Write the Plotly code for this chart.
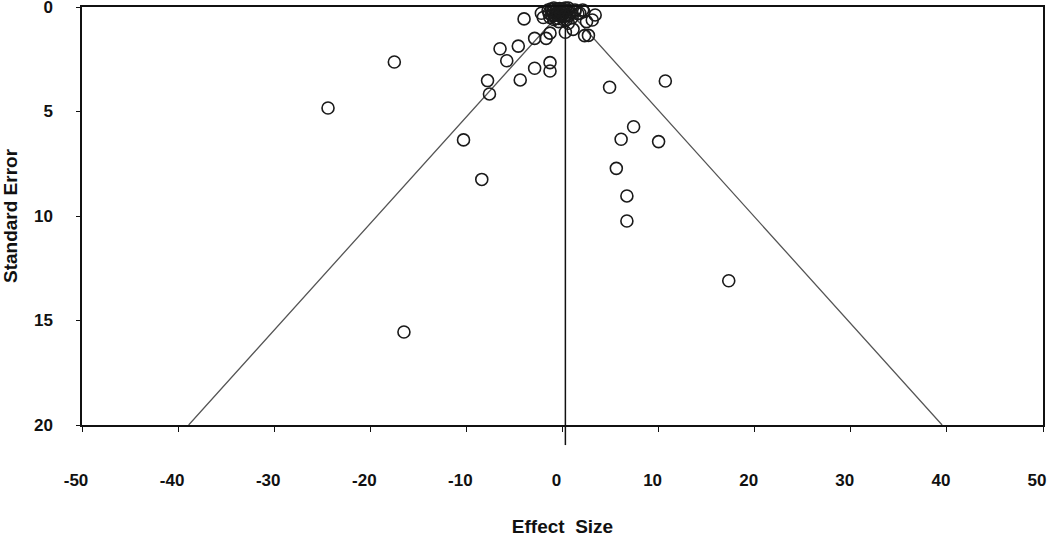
import plotly.graph_objects as go

# study effect sizes and standard errors
effect_size = [
    -24.4, -17.5, -16.5, -10.3, -8.4, -7.8, -7.6, -6.5, -5.8, -4.6,
    -4.4, -4.0, -2.9, -2.9, -1.3, -1.3, -1.7, -1.3, -2.2, -2.0,
    0.3, 1.1, 2.7, 2.3, 2.5, 3.4, 1.8, 0.6, 2.1, 1.3,
    3.1, 1.6, 2.2,
    4.9, 10.7, 7.4, 6.1, 10.0, 5.6, 6.7, 6.7, 17.3,
    -1.2, -0.9, -0.6, -0.3, 0.0, -1.0, -0.5, -0.2, 0.2, 0.5,
    -0.8, -0.1, 0.4, -1.4, 0.8, -0.4, 0.1, 1.0, -1.5, 0.6,
    1.3, -0.7, 0.3, -1.1, -0.6, -0.2, 0.2, -0.9, -0.4, 0.0,
    0.4, -1.3, -0.7, 0.7, -0.3,
]
standard_error = [
    4.83, 2.63, 15.55, 6.36, 8.25, 3.52, 4.16, 2.0, 2.57, 1.87,
    3.49, 0.57, 2.93, 1.5, 2.66, 3.06, 1.5, 1.25, 0.3, 0.5,
    1.21, 1.07, 1.36, 1.37, 0.7, 0.38, 0.3, 0.78, 0.14, 0.14,
    0.62, 0.32, 0.22,
    3.84, 3.54, 5.73, 6.33, 6.44, 7.72, 9.04, 10.24, 13.1,
    0.1, 0.05, 0.1, 0.08, 0.1, 0.25, 0.3, 0.2, 0.25, 0.15,
    0.4, 0.45, 0.4, 0.3, 0.3, 0.55, 0.6, 0.5, 0.15, 0.05,
    0.2, 0.2, 0.05, 0.4, 0.35, 0.35, 0.45, 0.6, 0.7, 0.3,
    0.6, 0.5, 0.55, 0.4, 0.15,
]

mean_effect = 0.3
z_crit = 1.96
se_max = 20

x_ticks = [-50, -40, -30, -20, -10, 0, 10, 20, 30, 40, 50]
x_tick_labels = ["-50", "-40", "-30", "-20", "-10", "0", "10", "20", "30", "40", "50"]
y_ticks = [0, 5, 10, 15, 20]
y_tick_labels = ["0", "5", "10", "15", "20"]

font_family = "Liberation Sans, Arial, sans-serif"

fig = go.Figure()

# pseudo 95% confidence funnel
fig.add_trace(go.Scatter(
    x=[mean_effect - z_crit * se_max, mean_effect, mean_effect + z_crit * se_max],
    y=[se_max, 0, se_max],
    mode="lines",
    line=dict(color="#555555", width=1.3),
    hoverinfo="skip",
))

# mean effect line
fig.add_trace(go.Scatter(
    x=[mean_effect, mean_effect],
    y=[0, se_max],
    mode="lines",
    line=dict(color="#111111", width=1.5),
    hoverinfo="skip",
))

fig.add_trace(go.Scatter(
    x=effect_size,
    y=standard_error,
    mode="markers",
    marker=dict(symbol="circle-open", size=12, color="#1a1a1a", line=dict(width=1.6)),
    cliponaxis=False,
))

# small stub of the mean line below the axis
fig.add_shape(type="line", xref="x", yref="paper",
              x0=mean_effect, x1=mean_effect, y0=0, y1=-0.048,
              line=dict(color="#111111", width=1.5))

fig.update_layout(
    width=1050,
    height=538,
    margin=dict(l=82, r=7, t=7, b=113, autoexpand=False),
    plot_bgcolor="white",
    paper_bgcolor="white",
    showlegend=False,
    font=dict(family=font_family, color="#111111"),
)

fig.update_xaxes(
    range=[-50, 50],
    tickvals=x_ticks,
    ticktext=x_tick_labels,
    automargin=False,
    ticklabeloverflow="allow",
    showgrid=False,
    zeroline=False,
    showline=True,
    linecolor="#111111",
    linewidth=1.5,
    mirror=True,
    ticks="outside",
    ticklen=5,
    tickcolor="#111111",
    ticklabelstandoff=34,
    ticklabelshift=-6,
    tickfont=dict(size=17, family=font_family, weight="bold"),
    title=dict(text="Effect  Size", standoff=31,
               font=dict(size=19, family=font_family, weight="bold")),
)

fig.update_yaxes(
    range=[20, 0],
    tickvals=y_ticks,
    ticktext=y_tick_labels,
    automargin=False,
    ticklabeloverflow="allow",
    showgrid=False,
    zeroline=False,
    showline=True,
    linecolor="#111111",
    linewidth=1.5,
    mirror=True,
    ticks="outside",
    ticklen=4,
    tickcolor="#111111",
    ticklabelstandoff=20,
    tickfont=dict(size=17, family=font_family, weight="bold"),
    title=dict(text="Standard Error", standoff=14,
               font=dict(size=19, family=font_family, weight="bold")),
)

fig.write_html("out.html", config={"displayModeBar": False},
               post_script="document.body.style.margin='0';")
